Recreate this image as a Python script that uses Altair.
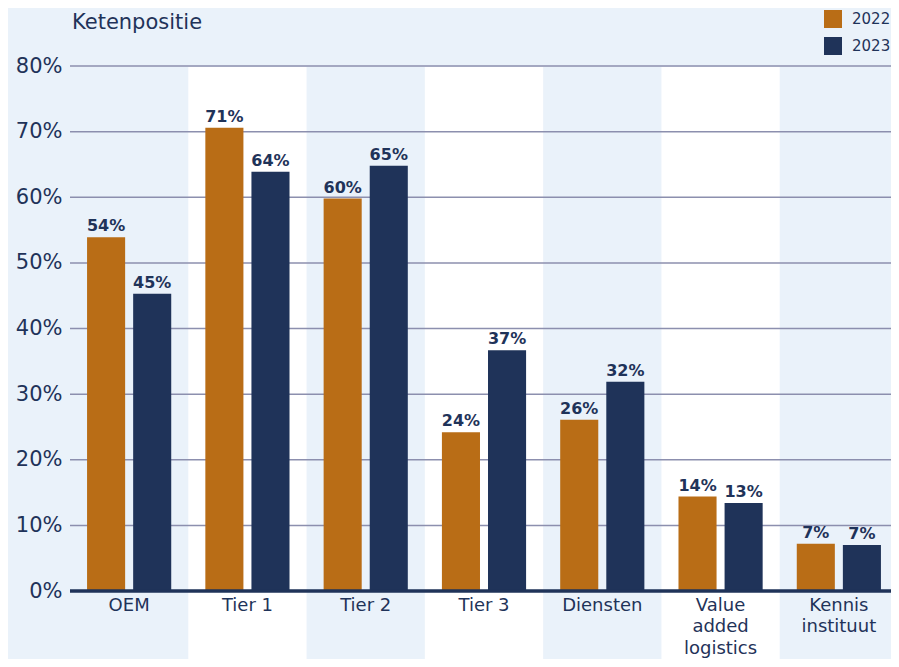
import altair as alt
import pandas as pd

categories = ["OEM", "Tier 1", "Tier 2", "Tier 3", "Diensten",
              "Value added logistics", "Kennis instituut"]
years = ["2022", "2023"]
values_2022 = [53.9, 70.6, 59.8, 24.2, 26.1, 14.4, 7.2]
values_2023 = [45.3, 63.9, 64.8, 36.7, 31.9, 13.4, 7.0]
labels_2022 = ["54%", "71%", "60%", "24%", "26%", "14%", "7%"]
labels_2023 = ["45%", "64%", "65%", "37%", "32%", "13%", "7%"]
white_bands = ["Tier 1", "Tier 3", "Value added logistics"]
grid_values = [10, 20, 30, 40, 50, 60, 70, 80]
y_ticks = [0, 10, 20, 30, 40, 50, 60, 70, 80]
title_text = ["Ketenpositie"]

NAVY = "#1f3359"
ORANGE = "#b96d16"
BG = "#eaf2fa"
GRID = "#8c8fae"
FONT = "DejaVu Sans"

rows = []
for yr, vals, labs in [("2022", values_2022, labels_2022), ("2023", values_2023, labels_2023)]:
    for c, v, l in zip(categories, vals, labs):
        rows.append({"category": c, "year": yr, "value": v, "label": l})
df = pd.DataFrame(rows)
df_bands = pd.DataFrame({"category": white_bands})
df_grid = pd.DataFrame({"v": grid_values})
df_zero = pd.DataFrame({"v": [0]})
df_title = pd.DataFrame({"t": title_text})

xscale = alt.Scale(domain=categories, paddingInner=0, paddingOuter=0)
yscale = alt.Scale(domain=[0, 80], nice=False)
offscale = alt.Scale(domain=years, paddingInner=0.174, paddingOuter=0.37)

label_expr = ("datum.label == 'Value added logistics' ? ['Value', 'added', 'logistics'] : "
              "datum.label == 'Kennis instituut' ? ['Kennis', 'instituut'] : datum.label")
xaxis = alt.Axis(title=None, labelAngle=0, labelFontSize=18, labelColor=NAVY, labelFont=FONT,
                 labelPadding=5, labelLineHeight=21.5, domain=False, ticks=False, grid=False,
                 labelExpr=label_expr)
yaxis = alt.Axis(title=None, values=y_ticks, labelExpr="datum.value + '%'", labelFontSize=21,
                 labelColor=NAVY, labelFont=FONT, labelPadding=8, domain=False, ticks=False,
                 grid=False)

X = alt.X("category:N", scale=xscale, axis=xaxis, sort=categories)

bands = alt.Chart(df_bands).mark_rect(color="white").encode(
    x=X, y=alt.value(1), y2=alt.value(700))

grid = alt.Chart(df_grid).mark_rule(color=GRID, strokeWidth=1.5).encode(
    y=alt.Y("v:Q", scale=yscale, axis=yaxis))

bars = alt.Chart(df).mark_bar().encode(
    x=X,
    xOffset=alt.XOffset("year:N", scale=offscale),
    y=alt.Y("value:Q", scale=yscale, axis=yaxis),
    color=alt.Color("year:N", scale=alt.Scale(domain=years, range=[ORANGE, NAVY]),
                    legend=alt.Legend(title=None, orient="none", legendX=754, legendY=-56,
                                      symbolType="square", symbolSize=324, symbolStrokeWidth=0,
                                      symbolOpacity=1, rowPadding=9, labelOffset=10,
                                      labelFontSize=15, labelColor=NAVY, labelFont=FONT,
                                      padding=0)),
)

texts = alt.Chart(df).mark_text(dy=-6, baseline="alphabetic", fontSize=16, fontWeight="bold",
                                color=NAVY, font=FONT).encode(
    x=X,
    xOffset=alt.XOffset("year:N", scale=offscale),
    y=alt.Y("value:Q", scale=yscale, axis=yaxis),
    text="label:N",
)

zero = alt.Chart(df_zero).mark_rule(color=NAVY, strokeWidth=3.5).encode(
    y=alt.Y("v:Q", scale=yscale, axis=yaxis))

title = alt.Chart(df_title).mark_text(align="left", baseline="alphabetic", fontSize=21,
                                      color=NAVY, font=FONT).encode(
    text="t:N", x=alt.value(2), y=alt.value(-37))

chart = alt.layer(bands, grid, bars, texts, zero, title).properties(
    width=828, height=525,
    autosize=alt.AutoSizeParams(type="none"),
    padding={"left": 62, "top": 58, "right": -7, "bottom": 68},
    background=BG,
).configure_view(stroke=None)

chart.save("out.html", embed_options={"renderer": "svg", "actions": False})
